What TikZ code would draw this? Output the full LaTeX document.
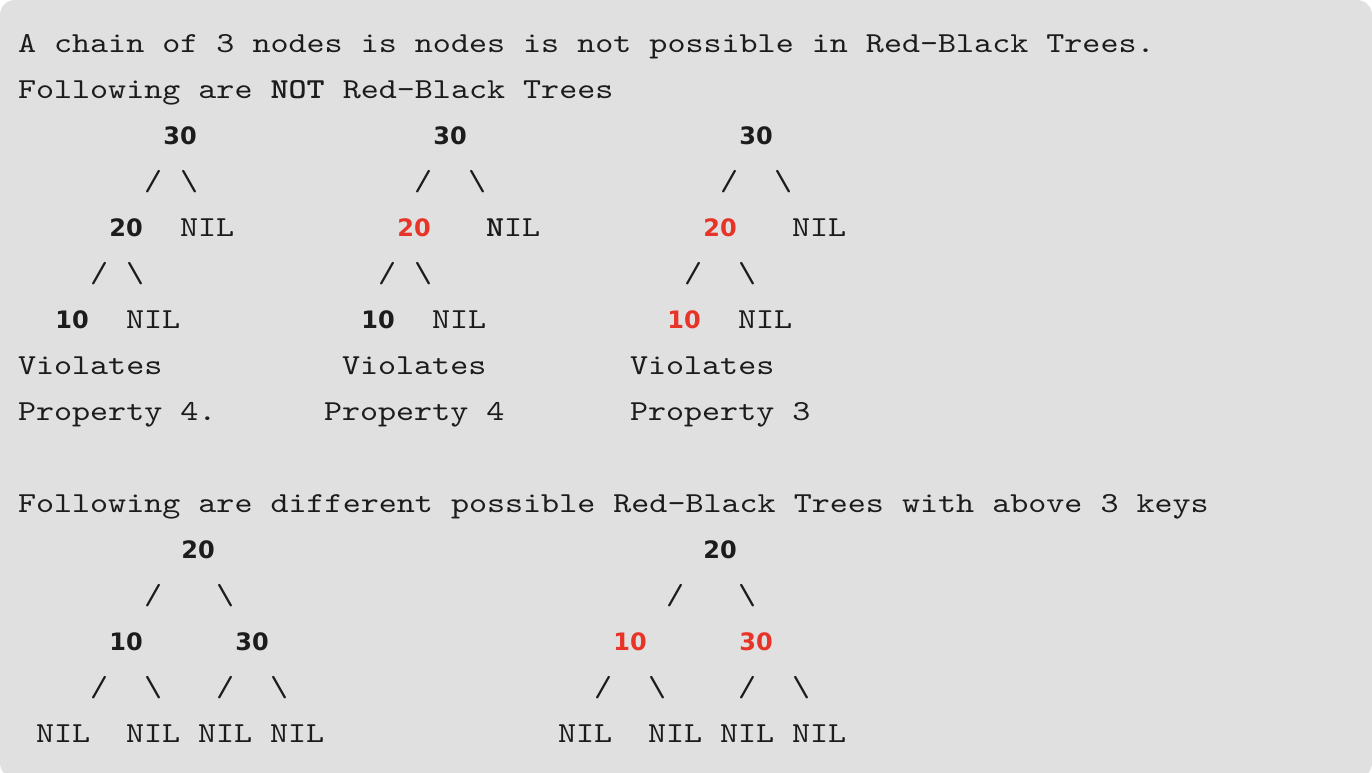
\documentclass[tikz,border=0pt]{standalone}
\usepackage{fontspec}
\newfontfamily\monof{lmmono10-regular}[Extension=.otf, BoldFont=lmmonolt10-bold, FakeStretch=1.185]
\newfontfamily\numf{DejaVu Sans}
\definecolor{bgc}{RGB}{224,224,224}
\definecolor{txt}{RGB}{28,28,28}
\definecolor{rbred}{RGB}{232,52,40}
\tikzset{
  tok/.style={inner sep=0pt, outer sep=0pt, anchor=base west, text=txt,
    font=\monof\fontsize{29}{36}\selectfont},
  num/.style={inner sep=0pt, outer sep=0pt, anchor=base, text=txt,
    font=\numf\bfseries\fontsize{24}{28}\selectfont},
  rnum/.style={num, text=rbred}
}
\begin{document}
\begin{tikzpicture}[x=1pt,y=-1pt]
\useasboundingbox (0,0) rectangle (1372,772);
\begin{scope}
\clip (0,0) rectangle (1372,772);
\fill[bgc, rounded corners=15pt] (0,0) rectangle (1372,778);
\end{scope}
\frenchspacing
% header lines
\node[tok] (l1) at (18,52) {A chain of 3 nodes is nodes is not possible in Red-Black Trees.};
\node[tok] (l2) at (18,98) {Following are \textbf{NOT} Red-Black Trees};
% row 3
\node[num] (a30) at (180,144) {30};
\node[num] (b30) at (450,144) {30};
\node[num] (c30) at (756,144) {30};
% row 4
\node[tok] (a30l) at (144,190) {/};
\node[tok] (a30r) at (180,190) {\textbackslash};
\node[tok] (b30l) at (414,190) {/};
\node[tok] (b30r) at (468,190) {\textbackslash};
\node[tok] (c30l) at (720,190) {/};
\node[tok] (c30r) at (774,190) {\textbackslash};
% row 5
\node[num] (a20) at (126,236) {20};
\node[tok] (anil1) at (180,236) {NIL};
\node[rnum] (b20) at (414,236) {20};
\node[tok] (bnil1) at (486,236) {\textbf{N}IL};
\node[rnum] (c20) at (720,236) {20};
\node[tok] (cnil1) at (792,236) {NIL};
% row 6
\node[tok] (a20l) at (90,282) {/};
\node[tok] (a20r) at (126,282) {\textbackslash};
\node[tok] (b20l) at (378,282) {/};
\node[tok] (b20r) at (414,282) {\textbackslash};
\node[tok] (c20l) at (684,282) {/};
\node[tok] (c20r) at (738,282) {\textbackslash};
% row 7
\node[num] (a10) at (72,328) {10};
\node[tok] (anil2) at (126,328) {NIL};
\node[num] (b10) at (378,328) {10};
\node[tok] (bnil2) at (432,328) {NIL};
\node[rnum] (c10) at (684,328) {10};
\node[tok] (cnil2) at (738,328) {NIL};
% rows 8-9
\node[tok] (av) at (18,374) {Violates};
\node[tok] (bv) at (342,374) {Violates};
\node[tok] (cv) at (630,374) {Violates};
\node[tok] (ap) at (18,420) {Property 4.};
\node[tok] (bp) at (324,420) {Property 4};
\node[tok] (cp) at (630,420) {Property 3};
% row 11
\node[tok] (l11) at (18,512) {Following are different possible Red-Black Trees with above 3 keys};
% row 12
\node[num] (d20) at (198,558) {20};
\node[num] (e20) at (720,558) {20};
% row 13
\node[tok] (d20l) at (144,604) {/};
\node[tok] (d20r) at (216,604) {\textbackslash};
\node[tok] (e20l) at (666,604) {/};
\node[tok] (e20r) at (738,604) {\textbackslash};
% row 14
\node[num] (d10) at (126,650) {10};
\node[num] (d30) at (252,650) {30};
\node[rnum] (e10) at (630,650) {10};
\node[rnum] (e30) at (756,650) {30};
% row 15
\node[tok] (d10l) at (90,696) {/};
\node[tok] (d10r) at (144,696) {\textbackslash};
\node[tok] (d30l) at (216,696) {/};
\node[tok] (d30r) at (270,696) {\textbackslash};
\node[tok] (e10l) at (594,696) {/};
\node[tok] (e10r) at (648,696) {\textbackslash};
\node[tok] (e30l) at (738,696) {/};
\node[tok] (e30r) at (792,696) {\textbackslash};
% row 16
\node[tok] (dn1) at (36,742) {NIL};
\node[tok] (dn2) at (126,742) {NIL};
\node[tok] (dn3) at (198,742) {NIL};
\node[tok] (dn4) at (270,742) {NIL};
\node[tok] (en1) at (558,742) {NIL};
\node[tok] (en2) at (648,742) {NIL};
\node[tok] (en3) at (720,742) {NIL};
\node[tok] (en4) at (792,742) {NIL};
\end{tikzpicture}
\end{document}
